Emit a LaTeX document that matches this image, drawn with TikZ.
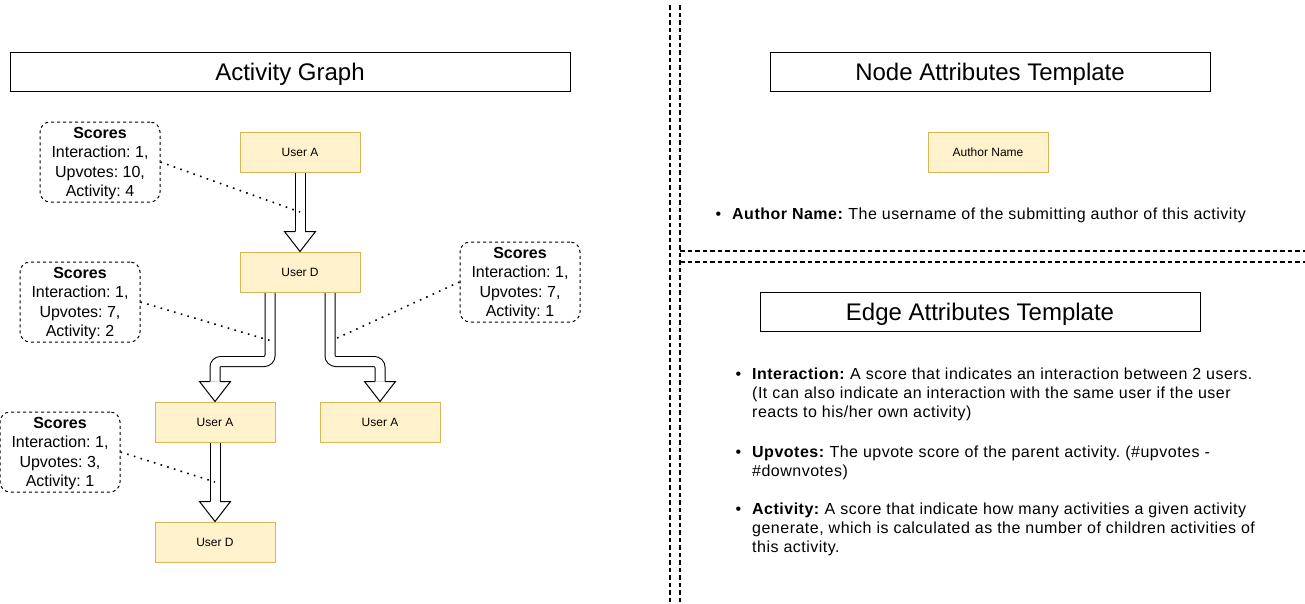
\documentclass[tikz,border=0pt]{standalone}
\usepackage{fontspec}
\setmainfont{Liberation Sans}
\usetikzlibrary{arrows.meta, positioning, calc, backgrounds}

\definecolor{userfill}{HTML}{FFF2CC}
\definecolor{userline}{HTML}{D6B656}

\begin{document}
\frenchspacing
\begin{tikzpicture}[x=1pt, y=-1pt,
  every node/.style={font=\fontsize{16}{19.2}\selectfont},
  titlebox/.style={draw, line width=1pt, minimum width=560pt, minimum height=39pt, inner sep=0pt, text depth=0pt, font=\fontsize{24}{28}\selectfont},
  user/.style={draw=userline, fill=userfill, line width=1pt, minimum width=120pt, minimum height=40pt, inner sep=0pt, font=\fontsize{12}{14}\selectfont},
  scores/.style={draw, dashed, fill=white, rounded corners=10pt, line width=1pt, minimum width=120pt, minimum height=80pt, inner sep=0pt, text depth=0pt, align=center},
  tube/.style={draw, line width=1pt, double=white, double distance=9pt},
  dots/.style={line width=1.6pt, dash pattern=on 1.6pt off 5.4pt},
  sepline/.style={line width=1.5pt, dash pattern=on 4.5pt off 3pt},
  item/.style={anchor=base west, align=left, inner sep=0pt, font=\fontsize{16}{19.2}\selectfont\addfontfeature{LetterSpace=3.1}},
  blockhead/.pic={\filldraw[fill=white, line width=1pt] (-5,-20) -- (-15.5,-20) -- (0,0) -- (15.5,-20) -- (5,-20);}
]
\useasboundingbox (0,0) rectangle (1305,603);

% separators
\draw[sepline] (670,5) -- (670,603);
\draw[sepline] (680,5) -- (680,603);
\draw[sepline] (680,251) -- (1305,251);
\draw[sepline] (680,262) -- (1305,262);

% titles
\node[titlebox] (graph) at (290,71.5) {Activity Graph};
\node[titlebox, minimum width=440pt] (nodetpl) at (990,71.5) {Node Attributes Template};
\node[titlebox, minimum width=440pt] (edgetpl) at (980,311.5) {Edge Attributes Template};

% activity graph
\node[user] (ua) at (300,152) {User A};
\node[user] (ud) at (300,272) {User D};
\node[user] (ua2) at (215,422) {User A};
\node[user] (ua3) at (380,422) {User A};
\node[user] (ud2) at (215,542) {User D};

\begin{scope}[on background layer]
  \draw[tube] (ua.south) -- ([yshift=20pt]ud.north);
  \draw[tube, rounded corners=6pt] ([xshift=-30pt]ud.south) -- ++(0,69) -| ([yshift=20pt]ua2.north);
  \draw[tube, rounded corners=6pt] ([xshift=30pt]ud.south) -- ++(0,69) -| ([yshift=20pt]ua3.north);
  \draw[tube] (ua2.south) -- ([yshift=20pt]ud2.north);
\end{scope}
\pic at (ud.north) {blockhead};
\pic at (ua2.north) {blockhead};
\pic at (ua3.north) {blockhead};
\pic at (ud2.north) {blockhead};

% scores
\node[scores] (s1) at (100,162) {\textbf{Scores}\\Interaction: 1,\\Upvotes: 10,\\Activity: 4};
\node[scores] (s2) at (80,302) {\textbf{Scores}\\Interaction: 1,\\Upvotes: 7,\\Activity: 2};
\node[scores] (s3) at (520,282) {\textbf{Scores}\\Interaction: 1,\\Upvotes: 7,\\Activity: 1};
\node[scores] (s4) at (60,452) {\textbf{Scores}\\Interaction: 1,\\Upvotes: 3,\\Activity: 1};

\coordinate (p1) at ($(ua.south)!0.5!(ud.north)$);
\coordinate (p2) at ([xshift=-30pt, yshift=-48pt]ud.south);
\coordinate (p3) at ([xshift=36pt, yshift=-46pt]ud.south);
\coordinate (p4) at ($(ua2.south)!0.5!(ud2.north)$);
\draw[dots] (s1.east) -- (p1);
\draw[dots] (s2.east) -- (p2);
\draw[dots] (s3.west) -- (p3);
\draw[dots] (s4.east) -- (p4);

% node template
\node[user] (author) at (988,152) {Author Name};
\node[item] (authoritem) at (732,219.5) {\llap{\textbullet\hspace{11pt}}\textbf{Author Name:} The username of the submitting author of this activity};

% edge template (base = last line)
\node[item] (interitem) at (752,417.4) {\llap{\textbullet\hspace{11pt}}\textbf{Interaction:} A score that indicates an interaction between 2 users.\\(It can also indicate an interaction with the same user if the user\\reacts to his/her own activity)};
\node[item] (upitem) at (752,476.2) {\llap{\textbullet\hspace{11pt}}\textbf{Upvotes:} The upvote score of the parent activity. (\#upvotes -\\\#downvotes)};
\node[item] (actitem) at (752,552.4) {\llap{\textbullet\hspace{11pt}}\textbf{Activity:} A score that indicate how many activities a given activity\\generate, which is calculated as the number of children activities of\\this activity.};
\end{tikzpicture}
\end{document}
